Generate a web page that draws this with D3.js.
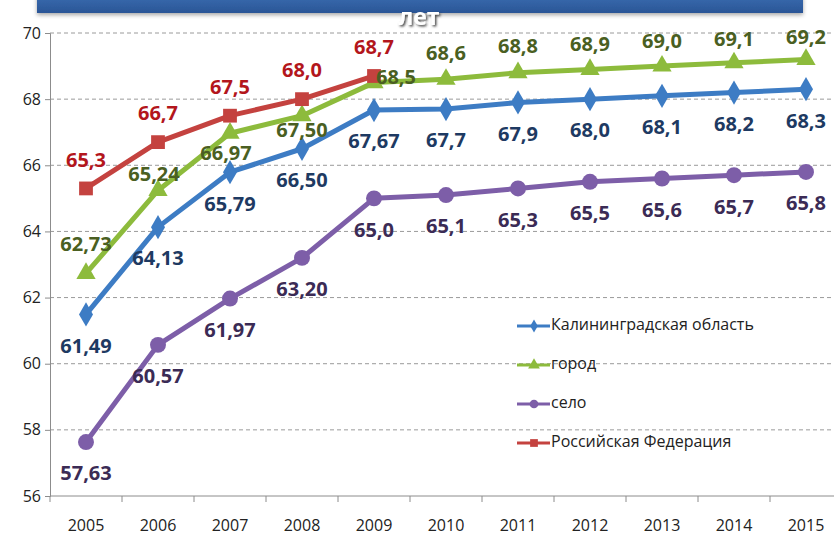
<!DOCTYPE html>
<html>
<head>
<meta charset="utf-8">
<script src="https://cdn.jsdelivr.net/npm/d3@7"></script>
<style>
  body { margin: 0; background: #fff; }
  svg { display: block; font-family: "Open Sans", "Liberation Sans", sans-serif; }
</style>
</head>
<body>
<svg id="chart"></svg>
<script>
// data
const years = ["2005", "2006", "2007", "2008", "2009", "2010", "2011", "2012", "2013", "2014", "2015"];
const region = [61.49, 64.13, 65.79, 66.50, 67.67, 67.7, 67.9, 68.0, 68.1, 68.2, 68.3];
const regionLabels = ["61,49", "64,13", "65,79", "66,50", "67,67", "67,7", "67,9", "68,0", "68,1", "68,2", "68,3"];
const city = [62.73, 65.24, 66.97, 67.50, 68.5, 68.6, 68.8, 68.9, 69.0, 69.1, 69.2];
const cityLabels = ["62,73", "65,24", "66,97", "67,50", "68,5", "68,6", "68,8", "68,9", "69,0", "69,1", "69,2"];
const village = [57.63, 60.57, 61.97, 63.20, 65.0, 65.1, 65.3, 65.5, 65.6, 65.7, 65.8];
const villageLabels = ["57,63", "60,57", "61,97", "63,20", "65,0", "65,1", "65,3", "65,5", "65,6", "65,7", "65,8"];
const russia = [65.3, 66.7, 67.5, 68.0, 68.7];
const russiaLabels = ["65,3", "66,7", "67,5", "68,0", "68,7"];
const yTicks = [56, 58, 60, 62, 64, 66, 68, 70];

const w = 834, h = 537;
const padLeft = 50, padTop = 33, axisBottom = 496;

const svg = d3.select("#chart").attr("width", w).attr("height", h);

const xScale = d3.scaleBand().domain(years).range([padLeft, padLeft + 72 * 11]);
const yScale = d3.scaleLinear().domain([56, 70]).range([axisBottom, padTop]);
const cx = d => xScale(d) + xScale.bandwidth() / 2;

// header bar (title mostly cut off at the top)
const defs = svg.append("defs");
const grad = defs.append("linearGradient").attr("id", "hdr").attr("x1", 0).attr("y1", 0).attr("x2", 0).attr("y2", 1);
grad.append("stop").attr("offset", "0%").attr("stop-color", "#3a6db0");
grad.append("stop").attr("offset", "100%").attr("stop-color", "#2a5596");
const shadow = defs.append("filter").attr("id", "sh").attr("x", "-5%").attr("y", "-50%").attr("width", "110%").attr("height", "250%");
shadow.append("feDropShadow").attr("dx", 0).attr("dy", 2).attr("stdDeviation", 2).attr("flood-color", "#000").attr("flood-opacity", 0.35);
const tshadow = defs.append("filter").attr("id", "tsh").attr("x", "-30%").attr("y", "-40%").attr("width", "160%").attr("height", "180%");
tshadow.append("feDropShadow").attr("dx", 1.5).attr("dy", 1.5).attr("stdDeviation", 1).attr("flood-color", "#333").attr("flood-opacity", 0.9);

svg.append("rect")
   .attr("x", 37).attr("y", -5).attr("width", 766).attr("height", 18)
   .attr("fill", "url(#hdr)")
   .attr("filter", "url(#sh)");

// gridlines
svg.append("g")
   .selectAll("line")
   .data(yTicks.filter(d => d > 56))
   .enter()
   .append("line")
   .attr("x1", padLeft).attr("x2", w)
   .attr("y1", d => yScale(d)).attr("y2", d => yScale(d))
   .attr("stroke", "#9a9a9a")
   .attr("stroke-dasharray", "4,3");

// axes
const axisY = d3.axisLeft(yScale).tickValues(yTicks).tickSize(5).tickPadding(4);
const gy = svg.append("g").attr("transform", `translate(${padLeft},0)`).call(axisY);
gy.select(".domain").attr("stroke", "#8c8c8c");
gy.selectAll(".tick line").attr("stroke", "#8c8c8c");
gy.selectAll("text").attr("font-size", 16).attr("fill", "#222").attr("font-family", "'Open Sans', sans-serif");

svg.append("line")
   .attr("x1", padLeft).attr("x2", w).attr("y1", axisBottom).attr("y2", axisBottom)
   .attr("stroke", "#8c8c8c");
svg.append("g")
   .selectAll("line")
   .data(years)
   .enter()
   .append("line")
   .attr("x1", d => xScale(d)).attr("x2", d => xScale(d))
   .attr("y1", axisBottom).attr("y2", axisBottom + 6)
   .attr("stroke", "#8c8c8c");
svg.append("g")
   .selectAll("text")
   .data(years)
   .enter()
   .append("text")
   .attr("x", d => cx(d))
   .attr("y", 527)
   .attr("text-anchor", "middle")
   .attr("dominant-baseline", "middle")
   .attr("font-size", 16)
   .attr("fill", "#222")
   .text(d => d);

// "лет" from the title, white with a grey shadow
svg.append("text")
   .attr("x", 419).attr("y", 19)
   .attr("text-anchor", "middle")
   .attr("dominant-baseline", "middle")
   .attr("font-size", 23)
   .attr("font-weight", "bold")
   .attr("fill", "#fff")
   .attr("filter", "url(#tsh)")
   .text("лет");

const line = d3.line().x((d, i) => cx(years[i])).y(d => yScale(d));

const series = [
  { name: "Калининградская область", values: region, labels: regionLabels, color: "#3d7cc4", text: "#1e3a62", marker: "diamond",
    off: region.map(() => [0, 33]) },
  { name: "город", values: city, labels: cityLabels, color: "#8dbb3c", text: "#4a5f22", marker: "triangle",
    off: [[0, -28], [-4, -15], [-4, 21], [0, 16], [22, -4], [0, -25], [0, -25], [0, -24], [0, -23], [0, -22], [0, -21]] },
  { name: "село", values: village, labels: villageLabels, color: "#7d5ea8", text: "#3b2b55", marker: "circle",
    off: village.map(() => [0, 33]) },
  { name: "Российская Федерация", values: russia, labels: russiaLabels, color: "#c4423f", text: "#b3161c", marker: "square",
    off: russia.map(() => [0, -27]) }
];

const symbolOf = {
  diamond: d3.symbol().type(d3.symbolDiamond).size(170),
  triangle: d3.symbol().type(d3.symbolTriangle).size(160),
  circle: d3.symbol().type(d3.symbolCircle).size(200),
  square: d3.symbol().type(d3.symbolSquare).size(190)
};
const legendSymbol = {
  diamond: d3.symbol().type(d3.symbolDiamond).size(50),
  triangle: d3.symbol().type(d3.symbolTriangle).size(60),
  circle: d3.symbol().type(d3.symbolCircle).size(60),
  square: d3.symbol().type(d3.symbolSquare).size(60)
};

// lines and markers
series.forEach(s => {
  svg.append("path")
     .datum(s.values)
     .attr("d", line)
     .attr("fill", "none")
     .attr("stroke", s.color)
     .attr("stroke-width", 5)
     .attr("stroke-linejoin", "round");
  svg.append("g")
     .selectAll("path")
     .data(s.values)
     .enter()
     .append("path")
     .attr("d", symbolOf[s.marker])
     .attr("transform", (d, i) => `translate(${cx(years[i])},${yScale(d)})`)
     .attr("fill", s.color);
});

// data labels
series.forEach(s => {
  svg.append("g")
     .selectAll("text")
     .data(s.values)
     .enter()
     .append("text")
     .attr("x", (d, i) => cx(years[i]) + s.off[i][0])
     .attr("y", (d, i) => yScale(d) + s.off[i][1])
     .attr("text-anchor", "middle")
     .attr("dominant-baseline", "middle")
     .attr("font-size", 20)
     .attr("font-weight", "bold")
     .attr("fill", s.text)
     .text((d, i) => s.labels[i]);
});

// legend
const legend = svg.append("g").attr("transform", "translate(517,326)");
series.forEach((s, i) => {
  const g = legend.append("g").attr("transform", `translate(0,${i * 39})`);
  g.append("line").attr("x1", 0).attr("x2", 33).attr("y1", 0).attr("y2", 0)
   .attr("stroke", s.color).attr("stroke-width", 3);
  g.append("path").attr("d", legendSymbol[s.marker]).attr("transform", "translate(17,0)").attr("fill", s.color);
  g.append("text").attr("x", 34).attr("y", 0)
   .attr("dominant-baseline", "middle")
   .attr("font-size", 16)
   .attr("fill", "#222")
   .text(s.name);
});
</script>
</body>
</html>
